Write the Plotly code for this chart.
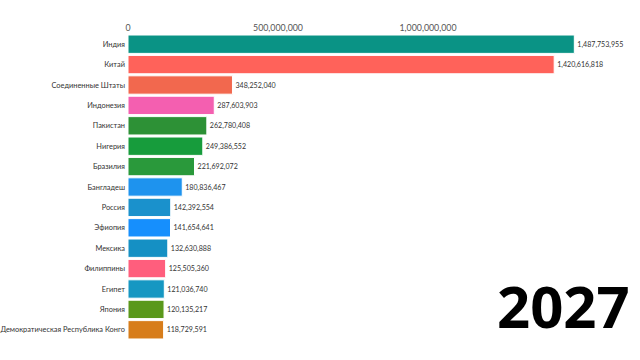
import plotly.graph_objects as go

countries = ["Индия", "Китай", "Соединенные Штаты", "Индонезия", "Пакистан", "Нигерия",
             "Бразилия", "Бангладеш", "Россия", "Эфиопия", "Мексика", "Филиппины",
             "Египет", "Япония", "Демократическая Республика Конго"]
population = [1487753955, 1420616818, 348252040, 287603903, 262780408, 249386552,
              221692072, 180836467, 142392554, 141654641, 132630888, 125505360,
              121036740, 120135217, 118729591]
colors = ["#0a9385", "#ff625a", "#f2684e", "#f45fb0", "#2d9136", "#179c3c",
          "#2a993b", "#1e93ee", "#1a91cc", "#168ffd", "#1590c4", "#ff5e7d",
          "#1697c2", "#5a981b", "#d77d1b"]
year = "2027"
tick_vals = [0, 500000000, 1000000000]
tick_text = ["0", "500,000,000", "1,000,000,000"]

FONT = "Lato"

fig = go.Figure(go.Bar(
    x=population, y=countries, orientation="h",
    marker=dict(color=colors, line=dict(color="white", width=1)),
    width=0.9,
    text=[f"{v:,}" for v in population], textposition="outside",
    textfont=dict(size=7.1, color="#333", family=FONT),
    cliponaxis=False,
))
fig.update_layout(
    width=640, height=360,
    margin=dict(l=128, r=0, t=34, b=20, autoexpand=False),
    plot_bgcolor="white", paper_bgcolor="white",
    showlegend=False,
    font=dict(family=FONT, color="#444"),
    xaxis=dict(side="top", range=[0, 1706.7e6], tickvals=tick_vals, ticktext=tick_text,
               showgrid=False, zeroline=False, showline=False, ticks="",
               tickfont=dict(size=8.8, color="#555"), automargin=False),
    yaxis=dict(autorange="reversed", showgrid=False, ticks="", automargin=False,
               tickfont=dict(size=7.4, color="#333"), ticklabelstandoff=2),
    annotations=[dict(text=f"<b>{year}</b>", xref="paper", yref="paper",
                      x=0.985, y=0.114, xanchor="right", yanchor="middle",
                      showarrow=False, font=dict(size=58, color="black", family="Open Sans"))],
)
fig.write_html("out.html", config={"displayModeBar": False},
               post_script="document.body.style.margin='0';document.body.style.overflow='hidden';")
